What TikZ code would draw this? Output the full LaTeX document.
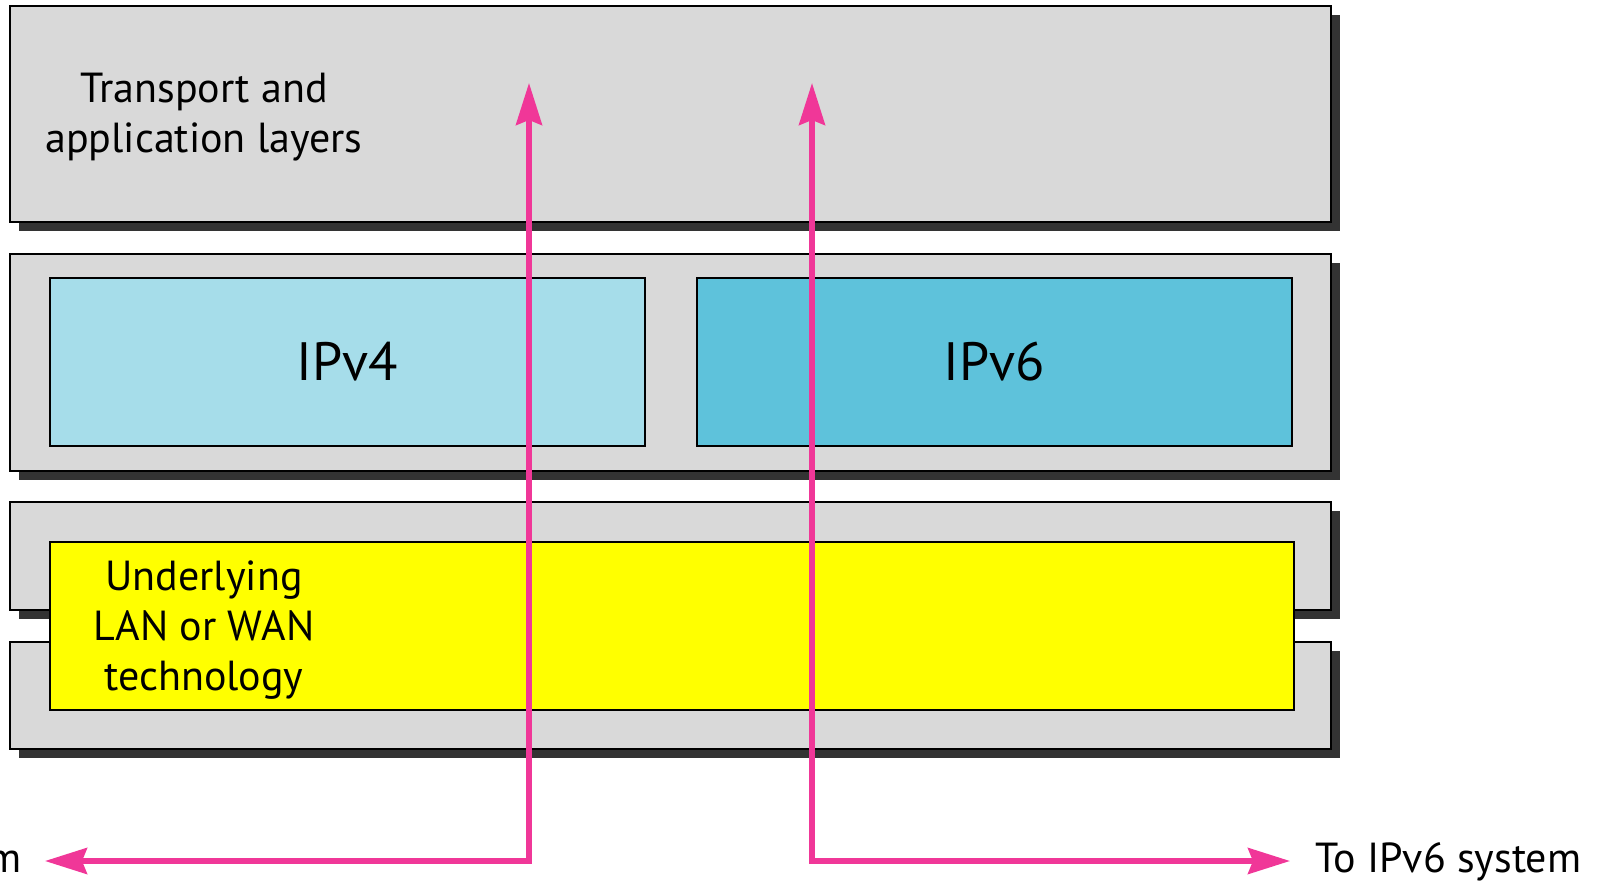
\documentclass[tikz,border=0pt]{standalone}
\usepackage{fontspec}
\setmainfont{PT Sans}
\usetikzlibrary{shadows,arrows.meta,positioning}

\definecolor{layergray}{RGB}{217,217,217}
\definecolor{shadowgray}{RGB}{51,51,51}
\definecolor{vfourblue}{RGB}{166,221,234}
\definecolor{vsixblue}{RGB}{94,194,219}
\definecolor{lanyellow}{RGB}{255,255,0}
\definecolor{flowpink}{RGB}{240,55,152}

\tikzset{
  layer/.style={rectangle, draw, line width=1pt, fill=layergray, minimum width=660.5pt,
    drop shadow={shadow xshift=4.5pt, shadow yshift=-4.5pt, fill=shadowgray, opacity=1}},
  proto/.style={rectangle, draw, line width=1pt, minimum width=297.5pt, minimum height=84pt,
    font=\fontsize{27}{32}\selectfont},
  label/.style={align=center, inner sep=0pt, font=\fontsize{21}{25}\selectfont},
  flow/.style={draw=flowpink, line width=2.6pt, {Stealth[length=21pt,width=13pt,inset=2.5pt]}-{Stealth[length=21pt,width=13pt,inset=2.5pt]}}
}

\begin{document}
\begin{tikzpicture}[x=0.5pt, y=-0.5pt]
\useasboundingbox (0,0) rectangle (1597,882);
\clip (0,0) rectangle (1597,882);

\node (upper) [layer, minimum height=108pt] at (670.5,114) {};
\node (network) [layer, minimum height=108.5pt] at (670.5,362.5) {};
\node (linkA) [layer, minimum height=54pt] at (670.5,556) {};
\node (linkB) [layer, minimum height=53.5pt] at (670.5,695.5) {};

\node (ipv4) [proto, fill=vfourblue] at (347.5,362) {IPv4};
\node (ipv6) [proto, fill=vsixblue] at (994.5,362) {IPv6};
\node (lan) [rectangle, draw, line width=1pt, fill=lanyellow, minimum width=622pt, minimum height=84pt] at (672,626) {};

\node (upperlabel) [label] at (204,117) {Transport and\\application layers};
\node (lanlabel) [label] at (204,630) {Underlying\\LAN or WAN\\technology};

\node (tofour) [label, anchor=base east] at (22,872) {To IPv4 system};
\node (tosix) [label, anchor=base west] at (1315,872) {To IPv6 system};

\coordinate (fourtop) at (529,83);
\coordinate (fourend) at (45,861);
\coordinate (sixtop) at (812,83);
\coordinate (sixend) at (1290,861);

\draw[flow] (fourend) -| (fourtop);
\draw[flow] (sixtop) |- (sixend);

\end{tikzpicture}
\end{document}
